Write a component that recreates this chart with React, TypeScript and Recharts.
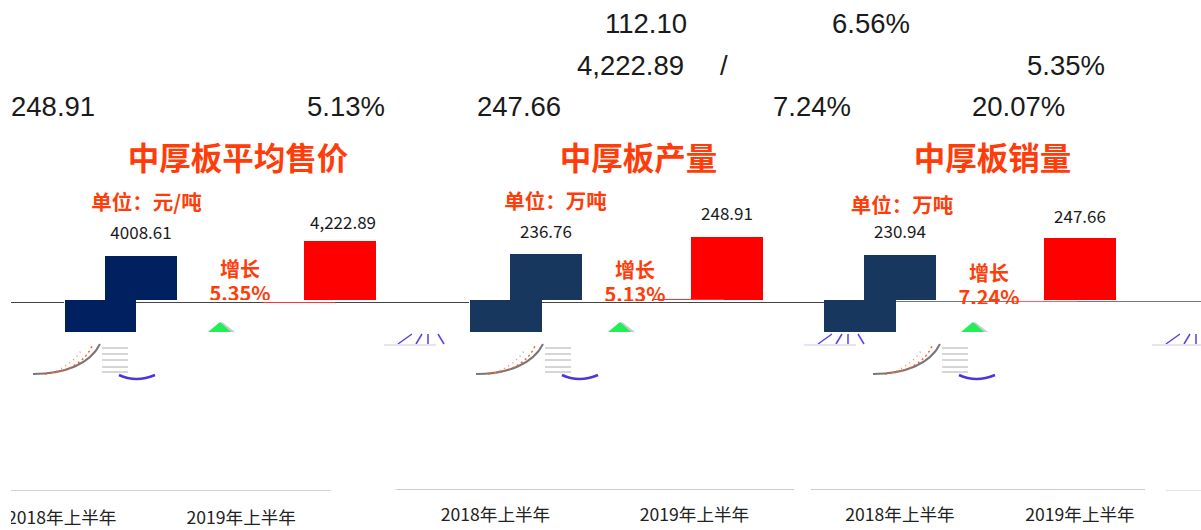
import React from 'react';
import { BarChart, Bar, Cell, LabelList, XAxis, YAxis } from 'recharts';

const categories = ['2018年上半年', '2019年上半年'];
const priceValues = [4008.61, 4222.89];
const priceLabels = ['4008.61', '4,222.89'];
const outputValues = [236.76, 248.91];
const outputLabels = ['236.76', '248.91'];
const salesValues = [230.94, 247.66];
const salesLabels = ['230.94', '247.66'];

const ORANGE = '#ff3d0a';
const CJK = '"Noto Sans CJK SC", sans-serif';

const toRows = (values: number[], labels: string[]) =>
  categories.map((name, i) => ({ name, value: values[i], label: labels[i] }));

// plot geometry of each glitched panel
const PANELS = [
  { rows: toRows(priceValues, priceLabels), navy: '#002060', plotLeft: 40.5, band: 199, redTop: 241, yMin: 666, lifts: [7, 2], nudge: 3, sliceX: [64, 136] },
  { rows: toRows(outputValues, outputLabels), navy: '#17375e', plotLeft: 454.5, band: 181, redTop: 237, yMin: 68, lifts: [6, 7], nudge: 0, sliceX: [469, 542] },
  { rows: toRows(salesValues, salesLabels), navy: '#17375e', plotLeft: 810, band: 180, redTop: 238, yMin: 0, lifts: [7, 5], nudge: 0, sliceX: [824, 896] },
];

const AXES = [
  { plotLeft: -28, band: 179.5, baseline: 490, clip: [11, 331], stroke: '#a6a6a6', width: 1, margin: 16, ticks: true },
  { plotLeft: 396, band: 199, baseline: 489, clip: [396, 794], stroke: '#cccccc', width: 2, margin: 14, ticks: true },
  { plotLeft: 810, band: 180, baseline: 489, clip: [811, 1145], stroke: '#cccccc', width: 2, margin: 14, ticks: true },
  { plotLeft: 1166, band: 180, baseline: 490, clip: [1166, 1201], stroke: '#cccccc', width: 1, margin: 14, ticks: false },
];

const TOP_TEXTS = [
  { text: '112.10', x: 605, y: 24 },
  { text: '6.56%', x: 832, y: 24 },
  { text: '4,222.89', x: 577, y: 66 },
  { text: '/', x: 720, y: 66 },
  { text: '5.35%', x: 1027, y: 66 },
  { text: '248.91', x: 11, y: 107 },
  { text: '5.13%', x: 307, y: 107 },
  { text: '247.66', x: 477, y: 107 },
  { text: '7.24%', x: 773, y: 107 },
  { text: '20.07%', x: 972, y: 107 },
];

const HEADINGS = [
  { title: '中厚板平均售价', titleX: 238, unit: '单位：元/吨', unitX: 146.5, unitY: 201, rise: '5.35%', riseX: 240, riseY: 269 },
  { title: '中厚板产量', titleX: 638.5, unit: '单位：万吨', unitX: 555.5, unitY: 200, rise: '5.13%', riseX: 635, riseY: 270 },
  { title: '中厚板销量', titleX: 992.5, unit: '单位：万吨', unitX: 902, unitY: 204, rise: '7.24%', riseX: 989, riseY: 273 },
];

function Clipped({ x, y, w, h, offsetX = 0, offsetY = 0, children }: any) {
  return (
    <div style={{ position: 'absolute', left: x, top: y, width: w, height: h, overflow: 'hidden' }}>
      <div style={{ position: 'absolute', left: offsetX - x, top: offsetY - y }}>{children}</div>
    </div>
  );
}

function BarsLayer({ panel, showLabels }: any) {
  const { rows, navy, band, redTop, yMin, lifts, nudge } = panel;
  const plotH = 490 - redTop;
  return (
    <BarChart
      width={band * 2}
      height={plotH + 90}
      data={rows}
      margin={{ top: 60, right: 0, bottom: 30, left: 0 }}
    >
      <XAxis dataKey="name" hide />
      <YAxis hide domain={[yMin, rows[1].value]} allowDataOverflow />
      <Bar dataKey="value" barSize={72} isAnimationActive={false}>
        {rows.map((r: any, i: number) => (
          <Cell key={r.name} fill={i === 0 ? navy : '#ff0000'} />
        ))}
        {showLabels && (
          <LabelList
            dataKey="label"
            content={(p: any) => (
              <text
                x={p.x + p.width / 2 + (p.index === 1 ? nudge : 0)}
                y={p.y - 10 - lifts[p.index]}
                textAnchor="middle"
                fontSize={17}
                fontFamily={CJK}
                fill="#1a1a1a"
              >
                {p.value}
              </text>
            )}
          />
        )}
      </Bar>
    </BarChart>
  );
}

function AxisLayer({ axis }: any) {
  return (
    <BarChart
      width={axis.band * 2}
      height={50}
      data={PANELS[0].rows}
      margin={{ top: 0, right: 0, bottom: 0, left: 0 }}
    >
      <XAxis
        dataKey="name"
        height={50}
        interval={0}
        tickLine={false}
        tickMargin={axis.margin}
        stroke={axis.stroke}
        strokeWidth={axis.width}
        tick={axis.ticks ? { fill: '#222222', fontSize: 17.6, fontFamily: CJK } : false}
      />
      <YAxis hide />
    </BarChart>
  );
}

function Debris({ dx, blueX }: { dx: number; blueX: number }) {
  return (
    <g fill="none">
      <path d={`M${dx + 33} 374 C${dx + 65} 374 ${dx + 90} 364 ${dx + 100} 344`} stroke="#777" strokeWidth={2} />
      <path d={`M${dx + 45} 374 C${dx + 68} 372 ${dx + 85} 362 ${dx + 92} 346`} stroke="#ff5a2a" strokeWidth={1.5} strokeDasharray="2 3" />
      <path d={`M${dx + 52} 373 C${dx + 64} 368 ${dx + 76} 360 ${dx + 82} 349`} stroke="#ff8a6a" strokeWidth={1.5} strokeDasharray="1 4" />
      {[348, 354, 360, 367, 372].map((y) => (
        <line key={y} x1={dx + 102} x2={dx + 128} y1={y} y2={y} stroke="#c9c9c9" strokeWidth={1.5} />
      ))}
      <path d={`M${dx + 119} 375 Q${dx + 136} 383 ${dx + 155} 375`} stroke="#4a35e0" strokeWidth={2.5} />
      <path d={`M${blueX} 344 L${blueX + 14} 334 M${blueX + 18} 344 L${blueX + 24} 334 M${blueX + 30} 334 L${blueX + 30} 344 M${blueX + 40} 334 L${blueX + 46} 344`} stroke="#5a40e8" strokeWidth={1.5} />
      <line x1={blueX - 14} x2={blueX + 38} y1={345} y2={345} stroke="#e4e4f2" strokeWidth={2} />
    </g>
  );
}

function label(text: string, cx: number, cy: number, size: number, clipBottom?: number) {
  const h = size + 2;
  const top = cy - h / 2;
  return (
    <div
      key={text + cx + cy}
      style={{
        position: 'absolute',
        left: cx - 160,
        top,
        width: 320,
        height: clipBottom ? clipBottom - top : h,
        overflow: clipBottom ? 'hidden' : 'visible',
        whiteSpace: 'nowrap',
        lineHeight: `${h}px`,
        textAlign: 'center',
        color: ORANGE,
        fontWeight: 700,
        fontSize: size,
        fontFamily: CJK,
      }}
    >
      {text}
    </div>
  );
}

export default function App() {
  return (
    <div style={{ position: 'fixed', left: 0, top: 0, width: 1201, height: 530, overflow: 'hidden', background: '#fff' }}>
      {TOP_TEXTS.map((t) => (
        <div
          key={t.text + t.x}
          style={{
            position: 'absolute',
            left: t.x,
            top: t.y - 18,
            lineHeight: '36px',
            fontSize: 27.5,
            fontFamily: '"Liberation Sans", sans-serif',
            color: '#1a1a1a',
            whiteSpace: 'nowrap',
          }}
        >
          {t.text}
        </div>
      ))}

      {/* upper part of each panel */}
      {PANELS.map((p) => (
        <Clipped key={p.plotLeft} x={p.plotLeft} y={0} w={p.band * 2} h={300} offsetX={p.plotLeft} offsetY={p.redTop - 60}>
          <BarsLayer panel={p} showLabels />
        </Clipped>
      ))}

      {/* slice of the 2018 bar that sits 40px to the left */}
      {PANELS.map((p) => (
        <Clipped
          key={p.sliceX[0]}
          x={p.sliceX[0]}
          y={300}
          w={p.sliceX[1] - p.sliceX[0]}
          h={32}
          offsetX={p.plotLeft - 40}
          offsetY={p.redTop - 60}
        >
          <BarsLayer panel={p} showLabels={false} />
        </Clipped>
      ))}

      {/* cut baseline across the page */}
      <div style={{ position: 'absolute', left: 11, top: 302, width: 53, height: 1, background: '#444' }} />
      <div style={{ position: 'absolute', left: 136, top: 302, width: 333, height: 1, background: '#444' }} />
      <div style={{ position: 'absolute', left: 542, top: 302, width: 282, height: 1, background: '#444' }} />
      <div style={{ position: 'absolute', left: 896, top: 301, width: 305, height: 1, background: '#777' }} />
      <div style={{ position: 'absolute', left: 263, top: 302, width: 72, height: 1, background: '#ff3030' }} />
      <div style={{ position: 'absolute', left: 652, top: 299, width: 72, height: 1, background: '#ff3030' }} />
      <div style={{ position: 'absolute', left: 1013, top: 301, width: 64, height: 1, background: '#ff6060' }} />

      {HEADINGS.map((h) => (
        <React.Fragment key={h.title}>
          {label(h.title, h.titleX, 157, 31.5)}
          {label(h.unit, h.unitX, h.unitY, 20.5)}
          {label('增长', h.riseX, h.riseY, 20)}
          {label(h.rise, h.riseX, h.riseY + 24, 20, h.riseY + 31)}
        </React.Fragment>
      ))}

      <svg width={1201} height={530} style={{ position: 'absolute', left: 0, top: 0 }}>
        {[208, 608, 961].map((x) => (
          <g key={x}>
            <polygon points={`${x + 3},332 ${x + 14},322 ${x + 27},332`} fill="#c9c9d6" />
            <polygon points={`${x},332 ${x + 12},322 ${x + 23},332`} fill="#22ee55" />
          </g>
        ))}
        <Debris dx={0} blueX={398} />
        <Debris dx={443} blueX={818} />
        <Debris dx={840} blueX={1166} />
      </svg>

      {AXES.map((a) => (
        <Clipped key={a.plotLeft} x={a.clip[0]} y={a.baseline - 2} w={a.clip[1] - a.clip[0]} h={530 - a.baseline + 2} offsetX={a.plotLeft} offsetY={a.baseline}>
          <AxisLayer axis={a} />
        </Clipped>
      ))}
    </div>
  );
}
